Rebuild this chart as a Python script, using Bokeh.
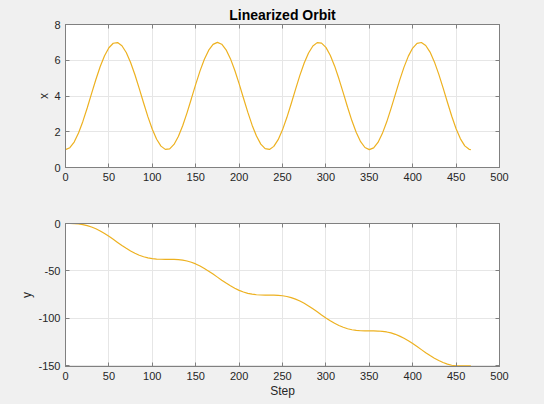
from bokeh.plotting import figure
from bokeh.layouts import column
from bokeh.models import Range1d, LinearAxis, FixedTicker
from bokeh.embed import file_html
from bokeh.resources import INLINE

# values, every 5 steps (plus the last step)
step = list(range(0, 470, 5)) + [467]
x_vals = [1.000, 1.108, 1.424, 1.926, 2.577, 3.330, 4.131, 4.923, 5.649, 6.256,
          6.700, 6.951, 6.989, 6.811, 6.432, 5.877, 5.187, 4.412, 3.608, 2.831,
          2.139, 1.580, 1.196, 1.013, 1.046, 1.291, 1.731, 2.335, 3.058, 3.849,
          4.651, 5.406, 6.059, 6.565, 6.887, 7.000, 6.897, 6.586, 6.089, 5.441,
          4.690, 3.889, 3.096, 2.368, 1.758, 1.308, 1.053, 1.010, 1.182, 1.557,
          2.107, 2.794, 3.568, 4.373, 5.151, 5.846, 6.408, 6.797, 6.985, 6.958,
          6.718, 6.282, 5.683, 4.962, 4.171, 3.369, 2.612, 1.955, 1.445, 1.119,
          1.000, 1.098, 1.404, 1.897, 2.541, 3.291, 4.091, 4.885, 5.616, 6.230,
          6.683, 6.943, 6.992, 6.825, 6.455, 5.908, 5.224, 4.452, 3.648, 2.868,
          2.170, 1.604, 1.210, 1.017, 1.000]
y_vals = [0.000, -0.019, -0.153, -0.509, -1.177, -2.225, -3.693, -5.593, -7.904, -10.575,
          -13.531, -16.676, -19.898, -23.084, -26.116, -28.898, -31.342, -33.390, -35.010, -36.201,
          -36.996, -37.452, -37.651, -37.698, -37.705, -37.785, -38.053, -38.601, -39.511, -40.829,
          -42.579, -44.750, -47.301, -50.169, -53.260, -56.468, -59.679, -62.778, -65.659, -68.229,
          -70.420, -72.191, -73.531, -74.459, -75.024, -75.304, -75.391, -75.399, -75.440, -75.631,
          -76.071, -76.847, -78.017, -79.616, -81.643, -84.069, -86.835, -89.859, -93.038, -96.261,
          -99.413, -102.380, -105.068, -107.398, -109.320, -110.810, -111.878, -112.562, -112.932, -113.074,
          -113.097, -113.114, -113.240, -113.582, -114.233, -115.260, -116.707, -118.585, -120.877, -123.533,
          -126.476, -129.614, -132.835, -136.025, -139.068, -141.865, -144.326, -146.396, -148.037, -149.250,
          -150.000, -150.000, -150.000, -150.000, -150.000]

x_ticks = [0, 50, 100, 150, 200, 250, 300, 350, 400, 450, 500]
top_ticks = [0, 2, 4, 6, 8]
bottom_ticks = [-150, -100, -50, 0]
bottom_labels = {-150: "-150", -100: "-100", -50: "-50", 0: "0"}

FONT = "Liberation Sans"
TXT = "#262626"
LINE = "#EDB120"
BOX = "#808080"


def style_axis(ax, labels=True):
    ax.major_tick_in = 4
    ax.major_tick_out = 0
    ax.minor_tick_line_color = None
    ax.axis_line_color = BOX
    ax.major_tick_line_color = BOX
    ax.major_label_text_font = FONT
    ax.major_label_text_font_size = "11px" if labels else "0px"
    ax.major_label_text_color = TXT if labels else None
    ax.major_label_standoff = 5 if labels else 0
    ax.axis_label_text_font = FONT
    ax.axis_label_text_font_size = "12px"
    ax.axis_label_text_font_style = "normal"
    ax.axis_label_text_color = TXT
    ax.axis_label_standoff = 1


def make_panel(ys, yr, yticks, ylabel, xlabel=None, title=None, bottom=28, top=24):
    p = figure(width=544, height=top + 143 + bottom, output_backend="svg",
               toolbar_location=None, x_range=Range1d(0, 500), y_range=Range1d(*yr),
               min_border_left=65, min_border_right=45,
               min_border_top=top, min_border_bottom=bottom)
    p.background_fill_color = "white"
    p.border_fill_color = "#f0f0f0"
    p.outline_line_color = BOX
    if title:
        p.title.text = title
        p.title.align = "center"
        p.title.text_font = FONT
        p.title.text_font_size = "14px"
        p.title.text_font_style = "bold"
        p.title.text_color = "black"
        p.title.offset = 0
        p.title.standoff = 3
    p.xaxis.ticker = FixedTicker(ticks=x_ticks)
    p.yaxis.ticker = FixedTicker(ticks=yticks)
    style_axis(p.xaxis[0])
    style_axis(p.yaxis[0])
    p.yaxis.axis_label = ylabel
    if xlabel:
        p.xaxis.axis_label = xlabel
    p.xgrid.ticker = FixedTicker(ticks=x_ticks)
    p.ygrid.ticker = FixedTicker(ticks=yticks)
    p.grid.grid_line_color = "#e6e6e6"
    # inward ticks on the top and right edges, as in the box
    ax_top = LinearAxis(ticker=FixedTicker(ticks=x_ticks))
    ax_right = LinearAxis(ticker=FixedTicker(ticks=yticks))
    style_axis(ax_top, labels=False)
    style_axis(ax_right, labels=False)
    p.add_layout(ax_top, "above")
    p.add_layout(ax_right, "right")
    p.line(step, ys, line_color=LINE, line_width=1.2)
    return p


p1 = make_panel(x_vals, (0, 8), top_ticks, "x", title="Linearized Orbit", bottom=28, top=24)
p1.yaxis[0].axis_label_standoff = 0
p2 = make_panel(y_vals, (-150.6, 0), bottom_ticks, "y", xlabel="Step", bottom=38, top=28)
p2.yaxis[0].major_label_overrides = bottom_labels

p = column(p1, p2, spacing=0)
p.styles = {"background-color": "#f0f0f0"}

open("out.html", "w").write(file_html(p, INLINE))
